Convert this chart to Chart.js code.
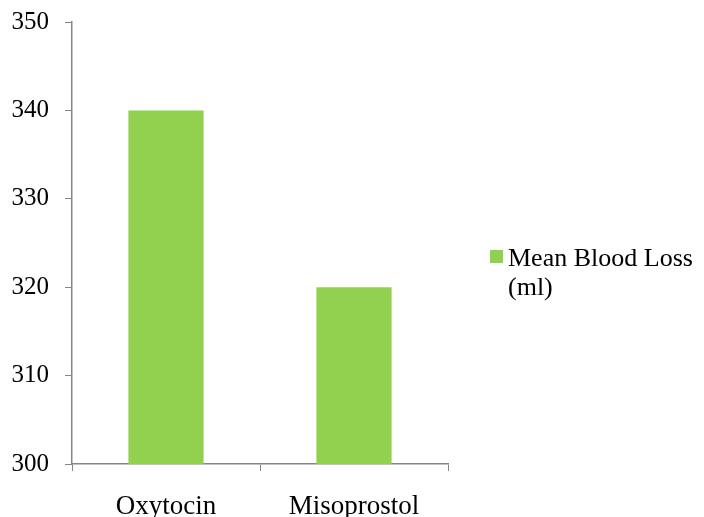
<!DOCTYPE html>
<html>
<head>
<meta charset="utf-8">
<script src="https://cdn.jsdelivr.net/npm/chart.js@4/dist/chart.umd.min.js"></script>
<style>
  html, body { margin: 0; padding: 0; background: #fff; }
  #wrap { width: 704px; height: 517px; position: relative; }
</style>
</head>
<body>
<div id="wrap"><canvas id="c" width="704" height="517"></canvas></div>
<script>
// Mean blood loss by drug
const categories = ['Oxytocin', 'Misoprostol'];
const meanBloodLoss = [340, 320];
const seriesLabel = ['Mean Blood Loss', '(ml)'];
const yTicks = [300, 310, 320, 330, 340, 350];

const GREEN = '#92D050';
const AXIS = '#868686';
const FONT = '"Liberation Serif", "Times New Roman", serif';

// Legend drawn to the right of the plot: swatch plus two-line label
const sideLegend = {
  id: 'sideLegend',
  afterDraw(chart) {
    const ctx = chart.ctx;
    const ds = chart.data.datasets[0];
    ctx.save();
    ctx.fillStyle = ds.backgroundColor;
    ctx.fillRect(490, 250, 13, 13);
    ctx.fillStyle = '#000';
    ctx.font = '26px ' + FONT;
    ctx.textBaseline = 'alphabetic';
    ctx.textAlign = 'left';
    ds.label.forEach((line, i) => ctx.fillText(line, 508, 266 + i * 29));
    ctx.restore();
  }
};

new Chart(document.getElementById('c'), {
  type: 'bar',
  data: {
    labels: categories,
    datasets: [{
      label: seriesLabel,
      data: meanBloodLoss,
      backgroundColor: GREEN,
      borderWidth: 0,
      barPercentage: 0.4,
      categoryPercentage: 1.0
    }]
  },
  options: {
    responsive: false,
    animation: false,
    layout: { padding: { left: 0, right: 256, top: 22, bottom: 0 } },
    plugins: { legend: { display: false }, tooltip: { enabled: false } },
    scales: {
      x: {
        grid: { drawOnChartArea: false, drawTicks: true, tickLength: 7, color: AXIS, offset: true },
        border: { display: true, color: AXIS, width: 1.5 },
        ticks: { color: '#000', font: { family: FONT, size: 27 }, padding: 20, maxRotation: 0 },
        afterFit(s) { s.height = 53; s.paddingLeft = 0; s.paddingRight = 0; }
      },
      y: {
        min: 300,
        max: 350,
        afterBuildTicks(s) { s.ticks = yTicks.map(v => ({ value: v })); },
        grid: { drawOnChartArea: false, drawTicks: true, tickLength: 7, color: AXIS },
        border: { display: true, color: AXIS, width: 1.5 },
        ticks: { color: '#000', font: { family: FONT, size: 25 }, padding: 16 },
        afterFit(s) { s.width = 72; s.paddingTop = 0; s.paddingBottom = 0; }
      }
    }
  },
  plugins: [sideLegend]
});
</script>
</body>
</html>
